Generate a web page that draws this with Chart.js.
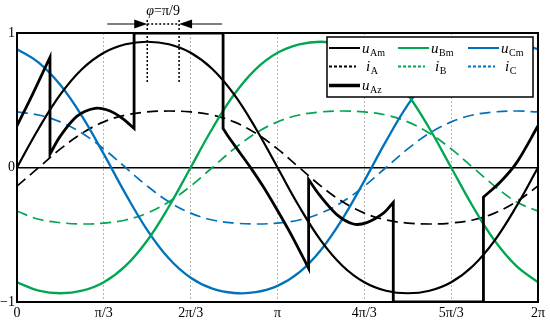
<!DOCTYPE html>
<html>
<head>
<meta charset="utf-8">
<script src="https://cdn.jsdelivr.net/npm/chart.js@4.4.1/dist/chart.umd.min.js"></script>
<style>
  html, body { margin: 0; padding: 0; background: #fff; }
</style>
</head>
<body>
<canvas id="c" width="550" height="321"></canvas>
<script>
const theta = [0, 15, 30, 45, 60, 75, 90, 105, 120, 135, 150, 165, 180, 195, 210, 225, 240, 255, 270, 285, 300, 315, 330, 345, 360];

// phase voltages (solid)
const uAm = [0, 0.290, 0.543, 0.732, 0.853, 0.916, 0.935, 0.916, 0.853, 0.732, 0.543, 0.290, 0, -0.290, -0.543, -0.732, -0.853, -0.916, -0.935, -0.916, -0.853, -0.732, -0.543, -0.290, 0];
const uBm = [-0.853, -0.916, -0.935, -0.916, -0.853, -0.732, -0.543, -0.290, 0, 0.290, 0.543, 0.732, 0.853, 0.916, 0.935, 0.916, 0.853, 0.732, 0.543, 0.290, 0, -0.290, -0.543, -0.732, -0.853];
const uCm = [0.880, 0.780, 0.613, 0.380, 0.099, -0.196, -0.465, -0.677, -0.820, -0.901, -0.933, -0.927, -0.880, -0.780, -0.613, -0.380, -0.099, 0.196, 0.465, 0.677, 0.820, 0.901, 0.933, 0.927, 0.880];

// phase currents (dashed)
const iA = [-0.138, 0, 0.138, 0.255, 0.339, 0.390, 0.413, 0.420, 0.413, 0.390, 0.339, 0.255, 0.138, 0, -0.138, -0.255, -0.339, -0.390, -0.413, -0.420, -0.413, -0.390, -0.339, -0.255, -0.138];
const iB = [-0.325, -0.385, -0.410, -0.420, -0.413, -0.390, -0.339, -0.255, -0.138, 0, 0.138, 0.255, 0.339, 0.390, 0.413, 0.420, 0.413, 0.390, 0.339, 0.255, 0.138, 0, -0.138, -0.255, -0.325];
const iC = [0.413, 0.390, 0.339, 0.255, 0.138, 0, -0.138, -0.255, -0.339, -0.390, -0.413, -0.420, -0.413, -0.390, -0.339, -0.255, -0.138, 0, 0.138, 0.255, 0.339, 0.390, 0.413, 0.420, 0.413];

// u_Az, piecewise with jumps (same angle twice = vertical step)
const azTheta = [0, 11, 22.8, 22.8, 29.7, 41.3, 53.9, 64.3, 73.5, 80.9, 80.9, 142.4, 142.4, 146, 154, 162, 170, 180, 190, 201.5, 201.5, 209.4, 221, 232.4, 241.7, 253.2, 260, 260, 322.3, 322.3, 333.8, 345.5, 360];
const azVal = [0.31, 0.55, 0.82, 0.10, 0.23, 0.38, 0.44, 0.42, 0.36, 0.29, 1.0, 1.0, 0.29, 0.23, 0.11, -0.01, -0.14, -0.32, -0.51, -0.75, -0.09, -0.21, -0.35, -0.42, -0.41, -0.34, -0.26, -1.0, -1.0, -0.22, -0.11, 0.04, 0.31];

const xTickLabels = ['0', 'π/3', '2π/3', 'π', '4π/3', '5π/3', '2π'];
const yTicks = [-1, 0, 1];
const yTickLabels = ['−1', '0', '1'];

// phase shift marker (deg) and its label
const phiMarks = [90, 112];
const phiLabel = ['φ', '=π/9'];

const GREEN = '#00a651';
const BLUE = '#0072bc';

const pts = (ys) => theta.map((t, i) => ({ x: t, y: ys[i] }));

// doubling the corner points keeps the spline straight through the steps
const withCorners = (xs, ys) => {
  const out = [];
  xs.forEach((x, i) => {
    out.push({ x, y: ys[i] });
    if ((i > 0 && xs[i - 1] === x) || (i < xs.length - 1 && xs[i + 1] === x)) {
      out.push({ x, y: ys[i] });
    }
  });
  return out;
};

Chart.defaults.font.family = "'Liberation Serif', 'Times New Roman', serif";
Chart.defaults.color = '#000';

const base = { pointRadius: 0, fill: false, tension: 0.4 };
const datasets = [
  { ...base, label: 'uAz', data: withCorners(azTheta, azVal), borderColor: '#000', borderWidth: 2.8, tension: 0.3 },
  { ...base, label: 'uAm', data: pts(uAm), borderColor: '#000', borderWidth: 2.2 },
  { ...base, label: 'uBm', data: pts(uBm), borderColor: GREEN, borderWidth: 2.3 },
  { ...base, label: 'uCm', data: pts(uCm), borderColor: BLUE, borderWidth: 2.3 },
  { ...base, label: 'iA', data: pts(iA), borderColor: '#000', borderWidth: 1.7, borderDash: [11, 6] },
  { ...base, label: 'iB', data: pts(iB), borderColor: GREEN, borderWidth: 1.7, borderDash: [11, 6] },
  { ...base, label: 'iC', data: pts(iC), borderColor: BLUE, borderWidth: 1.7, borderDash: [11, 6] },
];

// legend slots: [dataset index, row, column, main letter, subscript]
const legendItems = [
  [1, 0, 0, 'u', 'Am'], [2, 0, 1, 'u', 'Bm'], [3, 0, 2, 'u', 'Cm'],
  [4, 1, 0, 'i', 'A'], [5, 1, 1, 'i', 'B'], [6, 1, 2, 'i', 'C'],
  [0, 2, 0, 'u', 'Az'],
];

const overlay = {
  id: 'overlay',
  afterDraw(chart) {
    const { ctx, chartArea: a, scales: { x } } = chart;
    ctx.save();

    // frame
    ctx.strokeStyle = '#000';
    ctx.lineWidth = 2;
    ctx.strokeRect(a.left, a.top, a.right - a.left, a.bottom - a.top);

    // legend
    const lx = a.right - 211, ly = a.top + 4, lw = 206, lh = 60;
    ctx.fillStyle = '#fff';
    ctx.fillRect(lx, ly, lw, lh);
    ctx.lineWidth = 1.5;
    ctx.strokeRect(lx, ly, lw, lh);
    const colX = [2, 71, 141];
    const rowY = [11, 29.5, 48.5];
    legendItems.forEach(([di, r, c, main, sub]) => {
      const ds = chart.data.datasets[di];
      const y0 = ly + rowY[r];
      const x0 = lx + colX[c];
      ctx.beginPath();
      ctx.strokeStyle = ds.borderColor;
      ctx.lineWidth = di === 0 ? 3.5 : 2;
      ctx.setLineDash(ds.borderDash ? [3, 2] : []);
      ctx.moveTo(x0, y0);
      ctx.lineTo(x0 + (ds.borderDash ? 27 : 31), y0);
      ctx.stroke();
      ctx.setLineDash([]);
      ctx.fillStyle = '#000';
      const tx = x0 + (main === 'i' ? 37 : 33);
      ctx.font = "italic 15px 'Liberation Serif'";
      ctx.fillText(main, tx, y0 + 4.5);
      const w = ctx.measureText(main).width;
      ctx.font = "10px 'Liberation Serif'";
      ctx.fillText(sub, tx + w + 0.5, y0 + 7.5);
    });

    // phase shift marker above the plot
    const x1 = x.getPixelForValue(phiMarks[0]);
    const x2 = x.getPixelForValue(phiMarks[1]);
    const ay = a.top - 9;
    ctx.strokeStyle = '#000';
    ctx.lineWidth = 1.5;
    ctx.setLineDash([2, 2]);
    ctx.beginPath();
    ctx.moveTo(x1, a.top - 13); ctx.lineTo(x1, a.top + 50);
    ctx.moveTo(x2, a.top - 13); ctx.lineTo(x2, a.top + 50);
    ctx.moveTo(x1, ay); ctx.lineTo(x2, ay);
    ctx.stroke();
    ctx.setLineDash([]);
    ctx.lineWidth = 1.2;
    ctx.beginPath();
    ctx.moveTo(x1 - 40, ay); ctx.lineTo(x1 - 12, ay);
    ctx.moveTo(x2 + 43, ay); ctx.lineTo(x2 + 12, ay);
    ctx.stroke();
    ctx.fillStyle = '#000';
    ctx.beginPath();
    ctx.moveTo(x1, ay); ctx.lineTo(x1 - 13, ay - 4.5); ctx.lineTo(x1 - 13, ay + 4.5); ctx.closePath();
    ctx.moveTo(x2, ay); ctx.lineTo(x2 + 13, ay - 4.5); ctx.lineTo(x2 + 13, ay + 4.5); ctx.closePath();
    ctx.fill();

    ctx.font = "italic 14px 'Liberation Serif'";
    const w1 = ctx.measureText(phiLabel[0]).width;
    ctx.font = "14px 'Liberation Serif'";
    const w2 = ctx.measureText(phiLabel[1]).width;
    const sx = (x1 + x2) / 2 - (w1 + w2) / 2;
    ctx.font = "italic 14px 'Liberation Serif'";
    ctx.fillText(phiLabel[0], sx, a.top - 18);
    ctx.font = "14px 'Liberation Serif'";
    ctx.fillText(phiLabel[1], sx + w1, a.top - 18);

    ctx.restore();
  }
};

new Chart(document.getElementById('c'), {
  type: 'line',
  data: { datasets },
  plugins: [overlay],
  options: {
    responsive: false,
    animation: false,
    devicePixelRatio: 1,
    layout: { padding: { top: 33, right: 12, left: 0, bottom: 0 } },
    plugins: { legend: { display: false }, tooltip: { enabled: false } },
    scales: {
      x: {
        type: 'linear',
        min: 0,
        max: 360,
        afterFit: (s) => { s.height = 19; },
        ticks: {
          stepSize: 60,
          autoSkip: false,
          maxRotation: 0,
          padding: 3,
          font: { size: 14 },
          callback: (v, i) => xTickLabels[i],
        },
        grid: {
          drawTicks: false,
          lineWidth: 1,
          color: (c) => (c.tick && (c.tick.value === 0 || c.tick.value === 360)) ? 'rgba(0,0,0,0)' : '#b4b4b4',
        },
        border: { display: false, dash: [2, 2] },
      },
      y: {
        min: -1,
        max: 1,
        afterFit: (s) => { s.width = 17; },
        ticks: {
          stepSize: 1,
          padding: 2,
          font: { size: 14 },
          callback: (v) => yTickLabels[yTicks.indexOf(v)],
        },
        grid: {
          drawTicks: false,
          lineWidth: 1.5,
          color: (c) => (c.tick && c.tick.value === 0) ? '#000' : 'rgba(0,0,0,0)',
        },
        border: { display: false },
      },
    },
  },
});
</script>
</body>
</html>
